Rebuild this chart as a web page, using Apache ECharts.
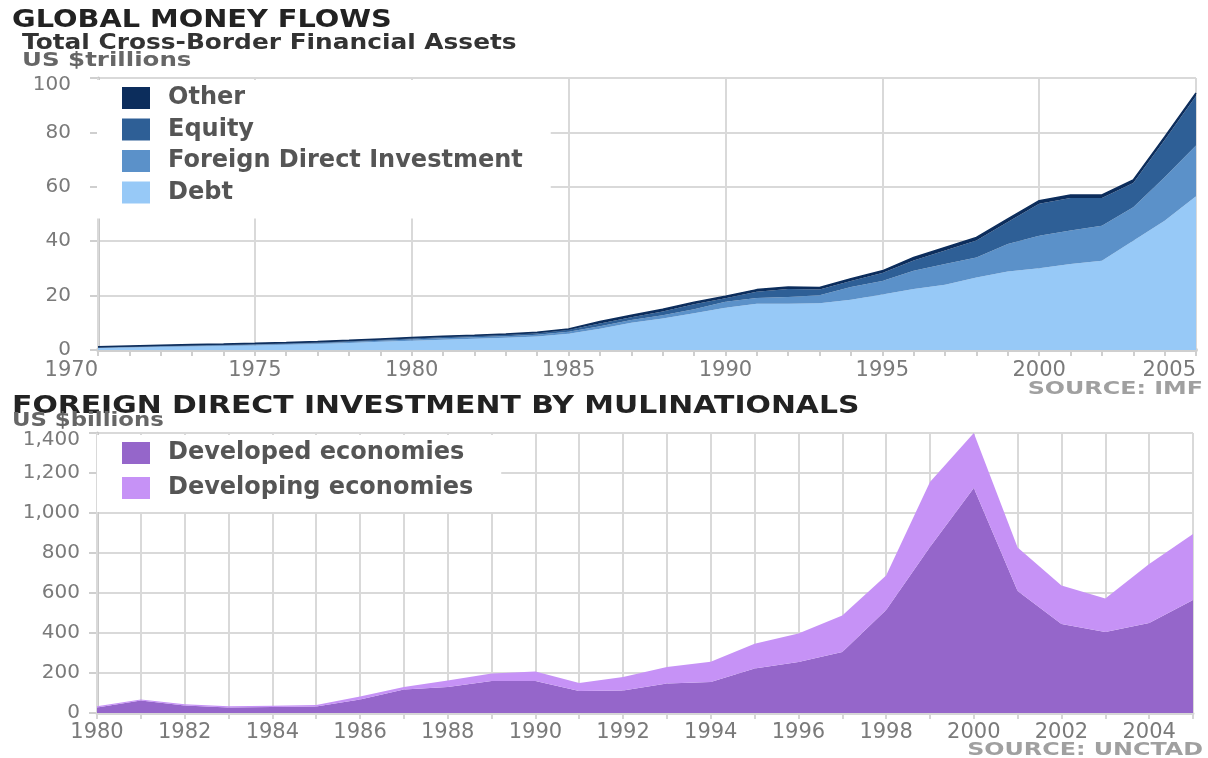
<!DOCTYPE html>
<html><head><meta charset="utf-8">
<script src="https://cdn.jsdelivr.net/npm/echarts@6/dist/echarts.min.js"></script>
<style>html,body{margin:0;padding:0;background:#fff}#c{width:1208px;height:758px}</style>
</head><body><div id="c"></div>
<script>
// ---- Top chart: Total Cross-Border Financial Assets (US $trillions)
const topYears = ['1970','1971','1972','1973','1974','1975','1976','1977','1978','1979',
  '1980','1981','1982','1983','1984','1985','1986','1987','1988','1989',
  '1990','1991','1992','1993','1994','1995','1996','1997','1998','1999',
  '2000','2001','2002','2003','2004','2005'];
const debt = [0.7,0.9,1.1,1.3,1.5,1.7,1.9,2.2,2.6,3.0,
  3.4,3.8,4.1,4.5,5.0,6.0,7.8,10.0,11.6,13.5,
  15.5,17.0,17.0,17.2,18.5,20.4,22.4,24.0,26.7,28.9,
  30.1,31.6,32.8,40.2,47.5,56.5];
const fdi = [0.1,0.15,0.2,0.2,0.2,0.25,0.3,0.3,0.35,0.4,
  0.45,0.5,0.55,0.6,0.65,0.7,0.9,1.0,1.2,1.5,
  2.2,2.1,2.5,2.9,4.7,5.0,6.7,7.6,7.3,10.1,
  11.9,12.3,12.9,12.3,16.0,18.7];
const equity = [0.1,0.15,0.15,0.2,0.2,0.2,0.25,0.3,0.3,0.35,
  0.4,0.45,0.5,0.5,0.55,0.7,1.0,1.0,1.4,1.8,
  1.3,2.3,2.9,2.1,2.2,2.9,3.8,5.0,6.3,8.1,
  11.8,12.0,10.2,8.9,13.7,18.2];
const other = [0.3,0.3,0.3,0.3,0.3,0.3,0.3,0.3,0.3,0.3,
  0.3,0.3,0.3,0.3,0.3,0.3,0.8,0.8,0.8,0.8,
  0.8,0.8,0.8,0.8,0.8,0.8,1.1,1.1,1.1,1.1,
  1.1,1.1,1.1,1.1,1.1,1.1];

// ---- Bottom chart: FDI by multinationals (US $billions)
const botYears = ['1980','1981','1982','1983','1984','1985','1986','1987','1988','1989',
  '1990','1991','1992','1993','1994','1995','1996','1997','1998','1999',
  '2000','2001','2002','2003','2004','2005'];
const developed = [28,62,38,28,30,32,68,118,130,160,
  160,110,112,148,155,222,255,305,515,830,
  1125,610,445,405,450,565];
const developing = [6,6,6,6,6,8,14,12,32,37,
  48,40,68,82,101,124,143,183,173,325,
  275,218,193,167,295,330];

const FONT = 'DejaVu Sans';
const gridColor = '#d9d9d9';
const labelColor = '#7a7a7a';

function area(name, data, color, stack, xi, lw) {
  return {
    name, type: 'line', stack, data, xAxisIndex: xi, yAxisIndex: xi,
    symbol: 'none', color, itemStyle: {color},
    lineStyle: {width: lw || 0, color},
    areaStyle: {color, opacity: 1},
    emphasis: {disabled: true}, silent: true
  };
}

function label(text, x, y, size, color, sx, align) {
  return {
    type: 'text', x, y, scaleX: sx, silent: true, z: 10,
    style: {text, fill: color, font: 'bold ' + size + 'px "DejaVu Sans"',
            align: align || 'left', verticalAlign: 'top',
            textAlign: align || 'left', textVerticalAlign: 'top'}
  };
}

const richY = {
  n: {color: labelColor, fontFamily: FONT, fontSize: 20},
  t: {color: labelColor, fontFamily: FONT, fontSize: 20, padding: [14, 0, 0, 0]}
};

const chart = echarts.init(document.getElementById('c'), null, {renderer: 'canvas'});
chart.setOption({
  animation: false,
  backgroundColor: '#fff',
  graphic: [
    label('GLOBAL MONEY FLOWS', 12, 9, 24, '#222', 1.2),
    label('Total Cross-Border Financial Assets', 22, 32, 21.5, '#333', 1.155),
    label('US $trillions', 22, 52, 19, '#666', 1.29),
    label('SOURCE: IMF', 1203, 381, 17, '#a0a0a0', 1.4, 'right'),
    label('FOREIGN DIRECT INVESTMENT BY MULINATIONALS', 12, 394, 24.5, '#222', 1.218),
    label('US $billions', 12, 412, 19, '#666', 1.2),
    label('SOURCE: UNCTAD', 1203, 742, 17, '#a0a0a0', 1.4, 'right')
  ],
  legend: [
    {data: ['Other', 'Equity', 'Foreign Direct Investment', 'Debt'],
     orient: 'vertical', left: 97, top: 80, backgroundColor: '#fff',
     padding: [6, 28, 14, 25], itemWidth: 28, itemHeight: 22, itemGap: 7.5,
     icon: 'rect', selectedMode: false,
     textStyle: {fontFamily: FONT, fontSize: 24, fontWeight: 'bold', color: '#555',
                 lineHeight: 22, padding: [0, 0, 0, 13]}},
    {data: ['Developed economies', 'Developing economies'],
     orient: 'vertical', left: 97, top: 435, backgroundColor: '#fff',
     padding: [6, 28, 12, 25], itemWidth: 28, itemHeight: 22, itemGap: 11,
     icon: 'rect', selectedMode: false,
     textStyle: {fontFamily: FONT, fontSize: 24, fontWeight: 'bold', color: '#555',
                 lineHeight: 22, padding: [0, 0, 0, 13]}}
  ],
  grid: [
    {left: 98, right: 12, top: 78, height: 272},
    {left: 97, right: 15, top: 433, height: 280}
  ],
  xAxis: [
    {type: 'category', gridIndex: 0, data: topYears, boundaryGap: false,
     axisLine: {show: true, lineStyle: {color: '#cfcfcf', width: 4}},
     axisTick: {show: true, interval: 0, length: 6, lineStyle: {color: '#cfcfcf', width: 2}},
     axisLabel: {interval: 4, margin: 10, color: labelColor, fontFamily: FONT, fontSize: 21,
                 alignMinLabel: 'right', alignMaxLabel: 'right'},
     splitLine: {show: true, interval: 4, lineStyle: {color: gridColor, width: 2}},
     z: 1},
    {type: 'category', gridIndex: 1, data: botYears, boundaryGap: false,
     axisLine: {show: true, lineStyle: {color: '#d6d6d6', width: 3}},
     axisTick: {show: true, interval: 0, length: 6, lineStyle: {color: '#d6d6d6', width: 2}},
     axisLabel: {interval: 1, margin: 9, color: labelColor, fontFamily: FONT, fontSize: 21},
     splitLine: {show: true, interval: 0, lineStyle: {color: gridColor, width: 2}},
     z: 1}
  ],
  yAxis: [
    {type: 'value', gridIndex: 0, min: 0, max: 100, interval: 20,
     axisLine: {show: true, lineStyle: {color: '#c8c8c8', width: 3}},
     axisTick: {show: true, length: 8, lineStyle: {color: '#cfcfcf', width: 2}},
     axisLabel: {margin: 27, rich: richY,
                 formatter: v => v === 100 ? '{t|' + v + '}' : '{n|' + v + '}'},
     splitLine: {show: true, lineStyle: {color: gridColor, width: 2}}},
    {type: 'value', gridIndex: 1, min: 0, max: 1400, interval: 200,
     axisLine: {show: true, lineStyle: {color: '#c8c8c8', width: 3}},
     axisTick: {show: true, length: 8, lineStyle: {color: '#cfcfcf', width: 2}},
     axisLabel: {margin: 17, rich: richY,
                 formatter: v => {
                   const s = v.toLocaleString('en-US');
                   return v === 1400 ? '{t|' + s + '}' : '{n|' + s + '}';
                 }},
     splitLine: {show: true, lineStyle: {color: gridColor, width: 2}}}
  ],
  series: [
    area('Debt', debt, '#97c9f7', 'top', 0),
    area('Foreign Direct Investment', fdi, '#5b91c9', 'top', 0),
    area('Equity', equity, '#2e5f96', 'top', 0),
    area('Other', other, '#0c2d5c', 'top', 0, 1.5),
    area('Developed economies', developed, '#9566ca', 'bot', 1),
    area('Developing economies', developing, '#c692f6', 'bot', 1)
  ]
});
</script>
</body></html>
